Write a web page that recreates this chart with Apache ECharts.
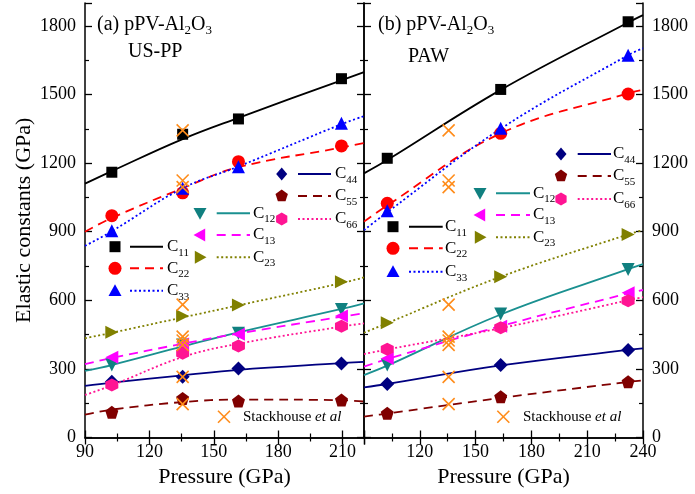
<!DOCTYPE html>
<html>
<head>
<meta charset="utf-8">
<script src="https://cdn.jsdelivr.net/npm/echarts@6/dist/echarts.min.js"></script>
<style>
  html, body { margin: 0; padding: 0; background: #fff; }
  #chart { width: 695px; height: 494px; }
</style>
</head>
<body>
<div id="chart"></div>
<script>
// ---- Stackhouse et al reference values at ~135 GPa ----
const stackP = 135.5;
const stackVals = [1343, 1124, 1095, 581, 441, 424, 405, 265, 146];

// ---- (a) US-PP calculated points ----
const usppP = [102.5, 135.5, 161.5, 209.5];
const usppC11 = [1160, 1326, 1393, 1569];
const usppC22 = [970, 1070, 1206, 1275];
const usppC33 = [904, 1090, 1184, 1374];
const usppC12 = [317, 404, 456, 560];
const usppC13 = [351, 409, 451, 531];
const usppC23 = [460, 531, 579, 681];
const usppC44 = [244, 266, 302, 324];
const usppC55 = [110, 171, 160, 164];
const usppC66 = [230, 368, 400, 487];

// (a) fitted curves, sampled at these pressures
const usppFitP = [90, 102.5, 135.5, 161.5, 209.5, 220];
const usppFitC11 = [1110, 1165, 1305, 1398, 1562, 1598];
const usppFitC22 = [900, 960, 1090, 1182, 1268, 1288];
const usppFitC33 = [838, 902, 1090, 1185, 1370, 1405];
const usppFitC12 = [291, 317, 398, 460, 562, 587];
const usppFitC13 = [321, 348, 410, 455, 528, 543];
const usppFitC23 = [434, 458, 525, 578, 675, 700];
const usppFitC44 = [226, 240, 272, 296, 325, 331];
const usppFitC55 = [100, 122, 155, 166, 163, 157];
const usppFitC66 = [186, 228, 352, 410, 485, 499];

// ---- (b) PAW calculated points ----
const pawP = [102.5, 163.5, 232];
const pawC11 = [1221, 1522, 1818];
const pawC22 = [1024, 1330, 1502];
const pawC33 = [992, 1352, 1672];
const pawC12 = [317, 540, 735];
const pawC13 = [346, 487, 633];
const pawC23 = [502, 703, 888];
const pawC44 = [234, 317, 383];
const pawC55 = [106, 178, 244];
const pawC66 = [386, 480, 598];

// (b) fitted curves, sampled at these pressures
const pawFitP = [90, 102.5, 163.5, 232, 240];
const pawFitC11 = [1155, 1213, 1520, 1815, 1847];
const pawFitC22 = [944, 1015, 1330, 1505, 1520];
const pawFitC33 = [907, 985, 1350, 1672, 1702];
const pawFitC12 = [273, 314, 538, 736, 758];
const pawFitC13 = [310, 343, 487, 630, 645];
const pawFitC23 = [458, 500, 703, 888, 907];
const pawFitC44 = [219, 234, 315, 383, 390];
const pawFitC55 = [91, 105, 173, 243, 250];
const pawFitC66 = [365, 385, 478, 600, 614];

const FONT = 'Liberation Serif';

// symbol paths for data markers
const SYM = {
  square: 'rect',
  circle: 'circle',
  up: 'triangle',
  diamond: 'path://M0,-1 L0.85,0 L0,1 L-0.85,0 Z',
  down: 'path://M0,0 L2,0 L1,1.8 Z',
  left: 'path://M0,1 L1.8,0 L1.8,2 Z',
  right: 'path://M0,0 L1.8,1 L0,2 Z',
  pentagon: 'path://M0,-1 L0.951,-0.309 L0.588,0.809 L-0.588,0.809 L-0.951,-0.309 Z',
  hexagon: 'path://M0,-1 L0.866,-0.5 L0.866,0.5 L0,1 L-0.866,0.5 L-0.866,-0.5 Z',
  cross: 'path://M0,0 L10,10 M10,0 L0,10'
};

// component styles: name, marker, marker colour, line colour, dash
const comps = [
  { key: 'C11', sub: '11', sym: 'square',   color: '#000000', line: '#000000', dash: 'solid' },
  { key: 'C22', sub: '22', sym: 'circle',   color: '#ff0000', line: '#ff0000', dash: [9, 6] },
  { key: 'C33', sub: '33', sym: 'up',       color: '#0000ff', line: '#0000ff', dash: [2, 2.5] },
  { key: 'C12', sub: '12', sym: 'down',     color: '#108080', line: '#1a9090', dash: 'solid' },
  { key: 'C13', sub: '13', sym: 'left',     color: '#ff00ff', line: '#ff00ff', dash: [9, 6] },
  { key: 'C23', sub: '23', sym: 'right',    color: '#808000', line: '#808000', dash: [2, 2.5] },
  { key: 'C44', sub: '44', sym: 'diamond',  color: '#000080', line: '#000080', dash: 'solid' },
  { key: 'C55', sub: '55', sym: 'pentagon', color: '#800000', line: '#800000', dash: [9, 6] },
  { key: 'C66', sub: '66', sym: 'hexagon',  color: '#ff1493', line: '#ff1493', dash: [2, 2.5] }
];

const usppPts = [usppC11, usppC22, usppC33, usppC12, usppC13, usppC23, usppC44, usppC55, usppC66];
const usppFit = [usppFitC11, usppFitC22, usppFitC33, usppFitC12, usppFitC13, usppFitC23, usppFitC44, usppFitC55, usppFitC66];
const pawPts = [pawC11, pawC22, pawC33, pawC12, pawC13, pawC23, pawC44, pawC55, pawC66];
const pawFit = [pawFitC11, pawFitC22, pawFitC33, pawFitC12, pawFitC13, pawFitC23, pawFitC44, pawFitC55, pawFitC66];

function pairs(xs, ys) { return xs.map((x, i) => [x, ys[i]]); }

function markerSize(sym) {
  if (sym === 'square') return 11;
  if (sym === 'diamond') return 14;
  return 13;
}

function panelSeries(g, px, pts, fx, fits) {
  const out = [];
  comps.forEach((c, i) => {
    out.push({
      type: 'line', name: c.key + '-fit-' + g,
      xAxisIndex: g * 2, yAxisIndex: g * 2,
      data: pairs(fx, fits[i]), smooth: 0.4, showSymbol: false, silent: true,
      lineStyle: { color: c.line, width: 1.8, type: c.dash }, z: 2
    });
    out.push({
      type: 'scatter', name: c.key + '-' + g,
      xAxisIndex: g * 2, yAxisIndex: g * 2,
      data: pairs(px, pts[i]),
      symbol: SYM[c.sym], symbolSize: markerSize(c.sym),
      itemStyle: { color: c.color, opacity: 1 }, z: 3
    });
  });
  out.push({
    type: 'scatter', name: 'Stackhouse-' + g,
    xAxisIndex: g * 2, yAxisIndex: g * 2,
    data: stackVals.map(v => [stackP, v]),
    symbol: SYM.cross, symbolSize: 12,
    itemStyle: { color: 'rgba(0,0,0,0)', borderColor: '#ff8c1a', borderWidth: 1.6, opacity: 1 }, z: 4
  });
  return out;
}

// ---- axes ----
const axisLineStyle = { show: true, lineStyle: { color: '#000', width: 1.5 } };
const tickIn = { show: true, inside: true, length: 7, lineStyle: { color: '#000', width: 1.3 } };
const minorIn = { show: true, splitNumber: 2, length: 4, lineStyle: { color: '#000', width: 1.2 } };
const labelStyle = { color: '#000', fontFamily: FONT, fontSize: 18, formatter: v => String(v) };

function xAx(grid, max, pos, showLabels, hideMin, hideMax) {
  return {
    type: 'value', gridIndex: grid, min: 90, max: max, interval: 30, position: pos,
    axisLine: axisLineStyle, axisTick: tickIn, minorTick: minorIn, splitLine: { show: false },
    axisLabel: Object.assign({ show: showLabels, margin: 6, showMaxLabel: !hideMax, showMinLabel: !hideMin }, labelStyle),
    name: showLabels ? 'Pressure (GPa)' : '', nameLocation: 'middle', nameGap: 29,
    nameTextStyle: { color: '#000', fontFamily: FONT, fontSize: 22 }
  };
}
function yAx(grid, pos, showLabels, title) {
  return {
    type: 'value', gridIndex: grid, min: 0, max: 1900, interval: 300, position: pos,
    axisLine: axisLineStyle, axisTick: tickIn, minorTick: minorIn, splitLine: { show: false },
    axisLabel: Object.assign({ show: showLabels, margin: 9, showMaxLabel: false }, labelStyle),
    name: title || '', nameLocation: 'middle', nameGap: 50, nameRotate: 90,
    nameTextStyle: { color: '#000', fontFamily: FONT, fontSize: 22 }
  };
}

// ---- legend & annotation graphics ----
function symbolEl(type, x, y, color, s) {
  const h = s / 2;
  const st = { fill: color };
  if (type === 'square') return { type: 'rect', shape: { x: x - 5.5, y: y - 5.5, width: 11, height: 11 }, style: st };
  if (type === 'circle') return { type: 'circle', shape: { cx: x, cy: y, r: h }, style: st };
  let pts;
  if (type === 'up') pts = [[x, y - h], [x + h, y + h * 0.8], [x - h, y + h * 0.8]];
  if (type === 'down') pts = [[x - h, y - h * 0.8], [x + h, y - h * 0.8], [x, y + h]];
  if (type === 'left') pts = [[x - h, y], [x + h * 0.8, y - h], [x + h * 0.8, y + h]];
  if (type === 'right') pts = [[x + h, y], [x - h * 0.8, y - h], [x - h * 0.8, y + h]];
  if (type === 'diamond') pts = [[x, y - h], [x + h * 0.85, y], [x, y + h], [x - h * 0.85, y]];
  if (type === 'pentagon' || type === 'hexagon') {
    const n = type === 'pentagon' ? 5 : 6;
    pts = [];
    for (let k = 0; k < n; k++) {
      const a = -Math.PI / 2 + k * 2 * Math.PI / n;
      pts.push([x + h * Math.cos(a), y + h * Math.sin(a)]);
    }
  }
  return { type: 'polygon', shape: { points: pts }, style: st };
}

function legendRow(c, sx, y, lx0, lx1, tx) {
  return [
    symbolEl(c.sym, sx, y, c.color, 13),
    { type: 'line', shape: { x1: lx0, y1: y, x2: lx1, y2: y },
      style: { stroke: c.line, lineWidth: 2, lineDash: c.dash === 'solid' ? null : c.dash } },
    { type: 'text', x: tx, y: y, style: {
        text: '{m|C}{s|' + c.sub + '}', verticalAlign: 'middle', fill: '#000',
        rich: { m: { fontFamily: FONT, fontSize: 17 }, s: { fontFamily: FONT, fontSize: 11, padding: [12, 0, 0, 0] } } } }
  ];
}

function legendGroups(cfg) {
  const out = [];
  cfg.forEach(gr => {
    gr.idx.forEach((ci, r) => {
      out.push(...legendRow(comps[ci], gr.sx, gr.ys[r], gr.l0, gr.l1, gr.tx));
    });
  });
  return out;
}

function titleText(x, y, letter) {
  return { type: 'text', x: x, y: y, style: {
    text: '{m|(' + letter + ') pPV-Al}{s|2}{m|O}{s|3}', verticalAlign: 'middle', fill: '#000',
    rich: { m: { fontFamily: FONT, fontSize: 20 }, s: { fontFamily: FONT, fontSize: 13, padding: [12, 0, 0, 0] } } } };
}
function plainText(x, y, t, size) {
  return { type: 'text', x: x, y: y, style: { text: t, verticalAlign: 'middle', fill: '#000', font: size + 'px "' + FONT + '"' } };
}
function stackLegend(x, y, tx) {
  return [
    { type: 'line', shape: { x1: x - 6, y1: y - 6, x2: x + 6, y2: y + 6 }, style: { stroke: '#ff8c1a', lineWidth: 1.6 } },
    { type: 'line', shape: { x1: x - 6, y1: y + 6, x2: x + 6, y2: y - 6 }, style: { stroke: '#ff8c1a', lineWidth: 1.6 } },
    { type: 'text', x: tx, y: y, style: {
        text: '{n|Stackhouse }{i|et al}', verticalAlign: 'middle', fill: '#000',
        rich: { n: { fontFamily: FONT, fontSize: 15 }, i: { fontFamily: FONT, fontSize: 15, fontStyle: 'italic' } } } }
  ];
}

const graphics = [].concat(
  [titleText(97, 25, 'a'), plainText(128, 52, 'US-PP', 20)],
  legendGroups([
    { idx: [0, 1, 2], sx: 115, ys: [246.7, 268.3, 290.7], l0: 130, l1: 163, tx: 167 },
    { idx: [3, 4, 5], sx: 200, ys: [213.3, 235, 257.3], l0: 216.7, l1: 250, tx: 253 },
    { idx: [6, 7, 8], sx: 281.7, ys: [174, 196, 219], l0: 298, l1: 331, tx: 335 }
  ]),
  stackLegend(224, 416.7, 243),
  [titleText(378, 25, 'b'), plainText(408, 57, 'PAW', 20)],
  legendGroups([
    { idx: [0, 1, 2], sx: 393, ys: [226.7, 248.3, 271.7], l0: 409, l1: 442.7, tx: 445 },
    { idx: [3, 4, 5], sx: 480, ys: [193.3, 215, 237.3], l0: 496, l1: 530, tx: 533 },
    { idx: [6, 7, 8], sx: 561, ys: [154, 176, 199], l0: 577.7, l1: 611, tx: 613 }
  ]),
  stackLegend(503.3, 416.7, 523)
);

const option = {
  animation: false,
  backgroundColor: '#fff',
  grid: [
    { left: 85, top: 3, width: 279, height: 434.5 },
    { left: 364, top: 3, width: 279, height: 434.5 }
  ],
  xAxis: [
    xAx(0, 220, 'bottom', true, false, true),
    xAx(0, 220, 'top', false, false, true),
    xAx(1, 240, 'bottom', true, true, false),
    xAx(1, 240, 'top', false, false, false)
  ],
  yAxis: [
    yAx(0, 'left', true, 'Elastic constants (GPa)'),
    yAx(0, 'right', false),
    yAx(1, 'left', false),
    yAx(1, 'right', true)
  ],
  series: [].concat(
    panelSeries(0, usppP, usppPts, usppFitP, usppFit),
    panelSeries(1, pawP, pawPts, pawFitP, pawFit)
  ),
  graphic: graphics
};

const chart = echarts.init(document.getElementById('chart'), null, { renderer: 'canvas' });
chart.setOption(option);
</script>
</body>
</html>
